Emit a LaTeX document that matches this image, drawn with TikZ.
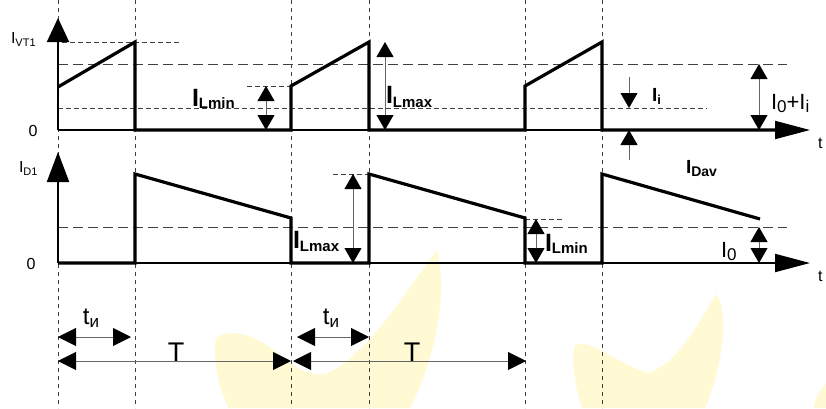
\documentclass[tikz,border=0pt]{standalone}
\usepackage{fontspec}
\setmainfont{Liberation Sans}
\usetikzlibrary{arrows.meta}
\definecolor{wm}{RGB}{255,249,212}
\newcommand{\fs}[1]{\fontsize{#1}{#1}\selectfont}
\begin{document}
\begin{tikzpicture}[x=1pt,y=-1pt,
  wave/.style={line width=3.2pt},
  axisl/.style={line width=2pt},
  vgrid/.style={line width=0.9pt, black!75, dash pattern=on 4pt off 4pt},
  sdash/.style={line width=0.9pt, black!75, dash pattern=on 5pt off 3pt},
  ldash/.style={line width=0.9pt, black!75, dash pattern=on 10pt off 5pt},
  tipd/.tip={Triangle[length=15pt,width=17pt,color=black]},
  tipt/.tip={Triangle[length=18pt,width=18pt,color=black]},
  dimarr/.style={line width=0.9pt, black!60, tipd-tipd},
  timearr/.style={line width=0.9pt, black!60, tipt-tipt},
  lbl/.style={anchor=base west, inner sep=0pt, outer sep=0pt},
  txt/.style={inner sep=0pt, outer sep=0pt}
]
\useasboundingbox (0,0) rectangle (826,408);
% watermark
\fill[wm] (216,338) .. controls (235,325) and (262,340) .. (280,355)
  .. controls (300,372) and (315,378) .. (330,372)
  .. controls (370,350) and (400,300) .. (437,250)
  .. controls (450,300) and (430,370) .. (410,408)
  -- (228,408) .. controls (220,390) and (212,360) .. (216,338) -- cycle;
\fill[wm] (575,345) .. controls (590,338) and (620,365) .. (648,373)
  .. controls (680,362) and (700,320) .. (716,294)
  .. controls (730,310) and (722,370) .. (705,408)
  -- (582,408) .. controls (576,390) and (570,360) .. (575,345) -- cycle;
\fill[wm] (826,383) .. controls (818,392) and (814,402) .. (814,408) -- (826,408) -- cycle;

% coordinates
\coordinate (o1) at (58,130);
\coordinate (y1) at (58,18);
\coordinate (x1) at (810,130);
\coordinate (o2) at (58,263);
\coordinate (y2) at (58,152);
\coordinate (x2) at (810,263);

% vertical grid
\foreach \x in {58,135,291,369,525,602}
  \draw[vgrid] (\x,0) -- (\x,408);

% horizontal dashed
\draw[sdash] (62,42) -- (180,42);
\draw[ldash] (58,64) -- (787,64);
\draw[sdash] (247,86) -- (291,86);
\draw[sdash] (58,108) -- (707,108);
\draw[sdash] (333,174) -- (369,174);
\draw[sdash] (525,219) -- (563,219);
\draw[ldash] (58,227) -- (787,227);

% axes
\draw[axisl,-{Triangle[length=24pt,width=22pt]}] (o1) -- (y1);
\draw[axisl,-{Triangle[length=35pt,width=18pt]}] (o1) -- (x1);
\draw[axisl,-{Triangle[length=30pt,width=22pt]}] (o2) -- (y2);
\draw[axisl,-{Triangle[length=35pt,width=18pt]}] (o2) -- (x2);

% waveforms
\draw[wave] (58,87) -- (135,42) -- (135,130) -- (291,130) -- (291,86) -- (369,42)
  -- (369,130) -- (525,130) -- (525,86) -- (602,42) -- (602,130) -- (775,130);
\draw[wave] (58,263) -- (135,263) -- (135,174) -- (291,218) -- (291,263) -- (369,263)
  -- (369,174) -- (525,218) -- (525,263) -- (602,263) -- (602,174) -- (760,219);

% dimension arrows
\coordinate (a1) at (266,86);  \coordinate (a2) at (266,130);
\coordinate (b1) at (385,42);  \coordinate (b2) at (385,130);
\coordinate (c1) at (629,77);  \coordinate (c2) at (629,108);
\coordinate (c3) at (629,160); \coordinate (c4) at (629,130);
\coordinate (d1) at (759,64);  \coordinate (d2) at (759,130);
\coordinate (e1) at (353,174); \coordinate (e2) at (353,263);
\coordinate (f1) at (536,219); \coordinate (f2) at (536,263);
\coordinate (g1) at (759,227); \coordinate (g2) at (759,263);
\draw[dimarr] (a1) -- (a2);
\draw[dimarr] (b1) -- (b2);
\draw[line width=0.9pt, black!60, -tipd] (c1) -- (c2);
\draw[line width=0.9pt, black!60, -tipd] (c3) -- (c4);
\draw[dimarr] (d1) -- (d2);
\draw[dimarr] (e1) -- (e2);
\draw[dimarr] (f1) -- (f2);
\draw[dimarr] (g1) -- (g2);

\coordinate (h1) at (58,337);  \coordinate (h2) at (131,337);
\coordinate (h3) at (297,337); \coordinate (h4) at (369,337);
\coordinate (k1) at (58,361);  \coordinate (k2) at (291,361);
\coordinate (k3) at (293,361); \coordinate (k4) at (526,361);
\draw[timearr] (h1) -- (h2);
\draw[timearr] (h3) -- (h4);
\draw[timearr] (k1) -- (k2);
\draw[timearr] (k3) -- (k4);

% labels
\node[lbl] (lvt) at (11,43) {\fs{16}I\raisebox{-3pt}{\fs{11}VT1}};
\node[txt] (z1) at (33,131) {\fs{16}0};
\node[lbl] (ld) at (19,172) {\fs{16}I\raisebox{-3pt}{\fs{11}D1}};
\node[txt] (z2) at (31,264) {\fs{16}0};
\node[lbl] (lmin1) at (192,106) {\bfseries\fs{25}I\raisebox{-2pt}{\fs{15}Lmin}};
\node[lbl] (lmax1) at (386,103) {\bfseries\fs{25}I\raisebox{-4pt}{\fs{15}Lmax}};
\node[lbl] (li) at (652,101) {\bfseries\fs{19}I\raisebox{-3pt}{\fs{13}i}};
\node[lbl] (l0i) at (771,109) {\fs{22}I\raisebox{-3pt}{\fs{17}0}+I\raisebox{-3pt}{\fs{17}i}};
\node[lbl] (lmax2) at (293,248) {\bfseries\fs{25}I\raisebox{-3pt}{\fs{15}Lmax}};
\node[lbl] (lmin2) at (545,251) {\bfseries\fs{25}I\raisebox{-2pt}{\fs{15}Lmin}};
\node[lbl] (ldav) at (686,173) {\bfseries\fs{19}I\raisebox{-3pt}{\fs{14}Dav}};
\node[lbl] (l0) at (721,257) {\fs{22}I\raisebox{-3pt}{\fs{17}0}};
\node[txt,anchor=west] (t1) at (818,143) {\fs{16}t};
\node[txt,anchor=west] (t2) at (818,276) {\fs{16}t};
\node[txt] (ti1) at (91,318) {\fs{24}t\raisebox{-3pt}{\fs{17}и}};
\node[txt] (ti2) at (331,318) {\fs{24}t\raisebox{-3pt}{\fs{17}и}};
\node[txt,anchor=base] (T1) at (176,361) {\fs{27}T};
\node[txt,anchor=base] (T2) at (412,361) {\fs{27}T};
\end{tikzpicture}
\end{document}
